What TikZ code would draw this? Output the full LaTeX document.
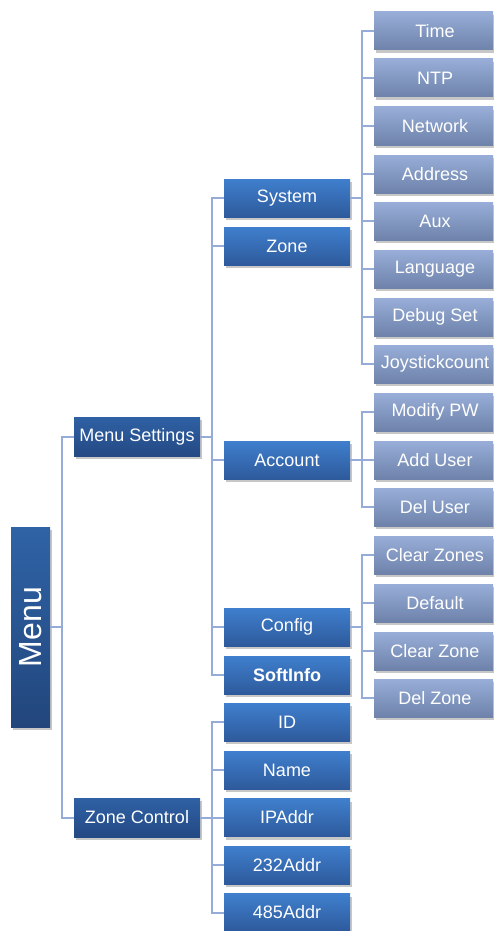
\documentclass[tikz,border=0pt]{standalone}
\usepackage{fontspec}
\setmainfont{Liberation Sans}
\usetikzlibrary{shadows}
\definecolor{linkblue}{RGB}{150,172,216}
\definecolor{rootup}{RGB}{47,99,166}
\definecolor{rootdn}{RGB}{34,70,124}
\definecolor{branchup}{RGB}{47,97,164}
\definecolor{branchdn}{RGB}{36,73,132}
\definecolor{itemup}{RGB}{63,127,205}
\definecolor{itemdn}{RGB}{46,90,156}
\definecolor{leafup}{RGB}{152,174,216}
\definecolor{leafdn}{RGB}{110,130,170}
\tikzstyle{box} = [rectangle, text=white, inner sep=1pt, text centered, font=\fontsize{18}{21}\selectfont,
                   drop shadow={shadow xshift=1.5pt, shadow yshift=-3pt, fill=black, opacity=0.22}]
\tikzstyle{root} = [box, minimum width=39, minimum height=200, top color=rootup, bottom color=rootdn, font=\fontsize{32}{36}\selectfont]
\tikzstyle{branch} = [box, minimum width=126, minimum height=39, top color=branchup, bottom color=branchdn]
\tikzstyle{item} = [box, minimum width=126, minimum height=38, top color=itemup, bottom color=itemdn]
\tikzstyle{leaf} = [box, minimum width=119, minimum height=38, top color=leafup, bottom color=leafdn]
\tikzstyle{link} = [draw=linkblue, line width=2pt]

\begin{document}
\begin{tikzpicture}[x=1pt, y=-1pt]
    \useasboundingbox (0,0) rectangle (494,931);
    % boxes
    \node[root] (menu) at (30.5,627) {\rotatebox{90}{Menu}};
    \node[branch] (mset) at (137,436.5) {Menu Settings};
    \node[branch] (zctl) at (137,817.5) {Zone Control};
    \node[item] (sys)  at (287,198) {System};
    \node[item] (zone) at (287,246) {Zone};
    \node[item] (acct) at (287,460) {Account};
    \node[item] (cfg)  at (287,627) {Config};
    \node[item] (soft) at (287,675) {\bfseries SoftInfo};
    \node[item] (id)   at (287,722) {ID};
    \node[item] (name) at (287,770) {Name};
    \node[item] (ip)   at (287,817.5) {IPAddr};
    \node[item] (a232) at (287,865) {232Addr};
    \node[item] (a485) at (287,912.5) {485Addr};
    \foreach \n/\y/\t in {time/31/Time, ntp/78/NTP, net/126/Network, addr/174/Address,
                          aux/221/Aux, lang/269/Language, dbg/317/Debug Set, joy/364/Joystickcount}
        \node[leaf] (\n) at (433.5,\y) {\hspace{3pt}\t};
    \foreach \n/\y/\t in {mpw/412/Modify PW, adduser/460/Add User, deluser/507/Del User}
        \node[leaf] (\n) at (433.5,\y) {\hspace{3pt}\t};
    \foreach \n/\y/\t in {clrs/555/Clear Zones, dflt/603/Default, clr/651/Clear Zone, delz/698/Del Zone}
        \node[leaf] (\n) at (433.5,\y) {\hspace{3pt}\t};

    % links
    \foreach \n in {mset,zctl}
        \draw[link] (menu.east) -- ++(12,0) |- (\n.west);
    \foreach \n in {sys,zone,acct,cfg,soft}
        \draw[link] (mset.east) -- ++(12,0) |- (\n.west);
    \foreach \n in {id,name,ip,a232,a485}
        \draw[link] (zctl.east) -- ++(12,0) |- (\n.west);
    \foreach \n in {time,ntp,net,addr,aux,lang,dbg,joy}
        \draw[link] (sys.east) -- ++(12,0) |- (\n.west);
    \foreach \n in {mpw,adduser,deluser}
        \draw[link] (acct.east) -- ++(12,0) |- (\n.west);
    \foreach \n in {clrs,dflt,clr,delz}
        \draw[link] (cfg.east) -- ++(12,0) |- (\n.west);
\end{tikzpicture}
\end{document}
